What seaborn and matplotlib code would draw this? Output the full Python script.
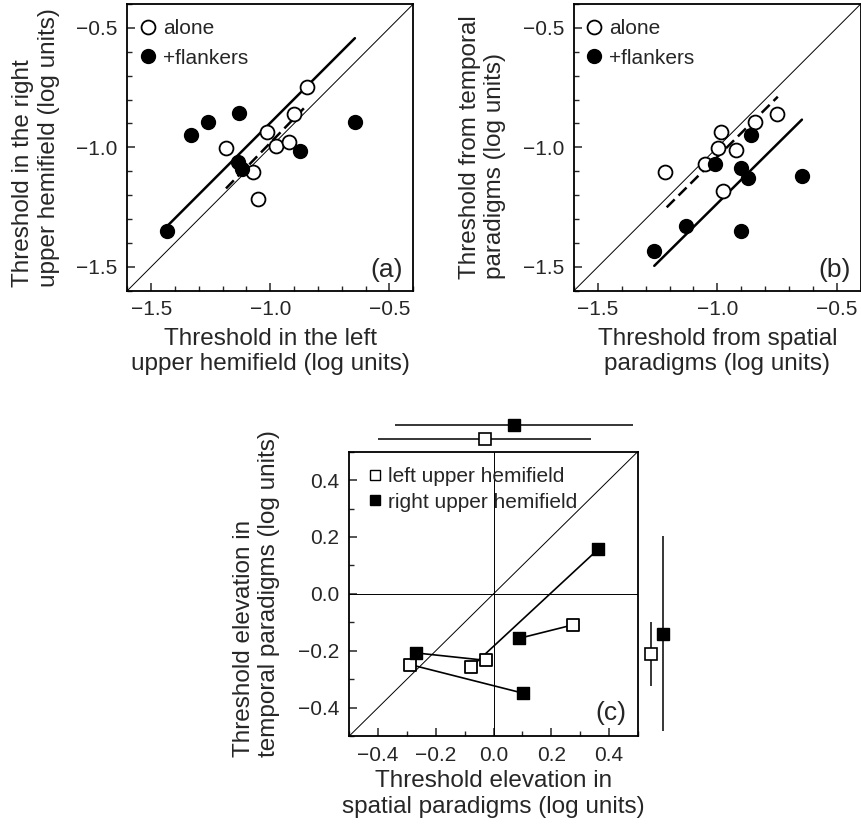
import numpy as np
import pandas as pd
import matplotlib
matplotlib.use("Agg")
import matplotlib.pyplot as plt
from matplotlib.lines import Line2D
from matplotlib.ticker import MultipleLocator
import seaborn as sns

# ---------------- data ----------------
# panel (a)
a_alone_x = [-0.846, -0.899, -1.013, -0.978, -0.920, -1.186, -1.072, -1.051]
a_alone_y = [-0.749, -0.860, -0.937, -0.993, -0.979, -1.004, -1.102, -1.216]
a_flank_x = [-1.130, -1.262, -1.331, -0.645, -0.874, -1.134, -1.120, -1.435]
a_flank_y = [-0.858, -0.895, -0.948, -0.895, -1.014, -1.063, -1.091, -1.352]
a_fit_flank_x = [-1.428, -0.645]
a_fit_flank_y = [-1.325, -0.543]
a_fit_alone_x = [-1.186, -0.846]
a_fit_alone_y = [-1.172, -0.823]

# panel (b)
b_alone_x = [-0.750, -0.844, -0.983, -0.996, -0.924, -1.053, -1.219, -0.976]
b_alone_y = [-0.860, -0.895, -0.934, -1.003, -1.011, -1.070, -1.102, -1.184]
b_flank_x = [-0.858, -1.011, -0.899, -0.872, -0.646, -1.132, -0.899, -1.264]
b_flank_y = [-0.948, -1.068, -1.088, -1.130, -1.119, -1.331, -1.349, -1.433]
b_fit_flank_x = [-1.264, -0.646]
b_fit_flank_y = [-1.496, -0.884]
b_fit_alone_x = [-1.212, -0.747]
b_fit_alone_y = [-1.251, -0.788]

# panel (c): paired observers (left / right upper hemifield)
c_left_x = [-0.026, -0.288, -0.078, 0.276]
c_left_y = [-0.234, -0.249, -0.258, -0.109]
c_right_x = [-0.267, 0.101, 0.363, 0.087]
c_right_y = [-0.208, -0.349, 0.157, -0.157]
# means and spreads shown outside the axes
c_left_mean_x, c_left_sd_x = -0.031, 0.368
c_right_mean_x, c_right_sd_x = 0.072, 0.412
c_left_mean_y, c_left_sd_y = -0.212, 0.113
c_right_mean_y, c_right_sd_y = -0.140, 0.343

ab_ticks = [-1.5, -1.0, -0.5]
c_ticks = [-0.4, -0.2, 0.0, 0.2, 0.4]

# ---------------- style ----------------
sns.set_style("ticks")
plt.rcParams['font.family'] = ['Liberation Sans', 'DejaVu Sans']
plt.rcParams['axes.linewidth'] = 1.3
plt.rcParams['axes.unicode_minus'] = True

W, H = 862, 825
fig = plt.figure(figsize=(W / 100, H / 100), dpi=100)

def px_axes(l, r, t, b):
    return fig.add_axes([l / W, (H - b) / H, (r - l) / W, (b - t) / H])

ax_a = px_axes(127.3, 413.3, 4, 290.7)
ax_b = px_axes(574.0, 860.7, 4, 290.7)
ax_c = px_axes(349.3, 637.7, 451.7, 736.0)

TICK_FS = 15
LABEL_FS = 17.5
LEG_FS = 15
LETTER_FS = 19

def style_ticks(ax, major, minor, lim):
    ax.set_xlim(lim)
    ax.set_ylim(lim)
    ax.set_xticks(major)
    ax.set_yticks(major)
    ax.xaxis.set_minor_locator(MultipleLocator(minor))
    ax.yaxis.set_minor_locator(MultipleLocator(minor))
    ax.tick_params(which='major', direction='in', length=6, width=1.1,
                   labelsize=TICK_FS, pad=7, top=False, right=False)
    ax.tick_params(which='minor', direction='in', length=3.5, width=1.0,
                   top=False, right=False)
    for s in ax.spines.values():
        s.set_visible(True)
        s.set_linewidth(1.3)
        s.set_color('black')

def scatter_panel(ax, ax_x, ax_y, fx, fy, fit_fx, fit_fy, fit_ax, fit_ay, letter, xlabel, ylabel):
    lim = (-1.6, -0.4)
    ax.plot(lim, lim, color='black', lw=0.7, zorder=1)
    sns.lineplot(x=fit_fx, y=fit_fy, ax=ax, color='black', lw=1.8, zorder=2, sort=False)
    sns.lineplot(x=fit_ax, y=fit_ay, ax=ax, color='black', lw=1.8, zorder=2, sort=False,
                 linestyle=(0, (4.5, 2.2)))
    sns.scatterplot(x=ax_x, y=ax_y, ax=ax, marker='o', s=100, facecolor='white',
                    edgecolor='black', linewidth=1.3, zorder=3)
    sns.scatterplot(x=fx, y=fy, ax=ax, marker='o', s=100, color='black',
                    edgecolor='black', linewidth=1.0, zorder=4)
    style_ticks(ax, ab_ticks, 0.1, lim)
    ax.set_xlabel(xlabel, fontsize=LABEL_FS, labelpad=6)
    ax.set_ylabel(ylabel, fontsize=LABEL_FS, labelpad=12, multialignment='left')
    handles = [Line2D([], [], marker='o', ls='', ms=10, mfc='white', mec='black', mew=1.3),
               Line2D([], [], marker='o', ls='', ms=10, mfc='black', mec='black')]
    ax.legend(handles, ['alone', '+flankers'], loc='upper left', frameon=False,
              bbox_to_anchor=(0.035, 0.948), borderaxespad=0, borderpad=0,
              fontsize=LEG_FS, handletextpad=0.22, labelspacing=0.52,
              handlelength=1.0)
    ax.text(0.965, 0.03, letter, transform=ax.transAxes, ha='right', va='bottom',
            fontsize=LETTER_FS)

scatter_panel(ax_a, a_alone_x, a_alone_y, a_flank_x, a_flank_y,
              a_fit_flank_x, a_fit_flank_y, a_fit_alone_x, a_fit_alone_y, '(a)',
              'Threshold in the left\nupper hemifield (log units)',
              'Threshold in the right\nupper hemifield (log units)')
scatter_panel(ax_b, b_alone_x, b_alone_y, b_flank_x, b_flank_y,
              b_fit_flank_x, b_fit_flank_y, b_fit_alone_x, b_fit_alone_y, '(b)',
              'Threshold from spatial\nparadigms (log units)',
              'Threshold from temporal\nparadigms (log units)')

# ---------------- panel (c) ----------------
ax = ax_c
clim = (-0.5, 0.5)
ax.plot(clim, clim, color='black', lw=0.7, zorder=1)
ax.axhline(0, color='black', lw=0.7, zorder=1)
ax.axvline(0, color='black', lw=0.7, zorder=1)
for lx, ly, rx, ry in zip(c_left_x, c_left_y, c_right_x, c_right_y):
    ax.plot([lx, rx], [ly, ry], color='black', lw=1.2, zorder=2)
sns.scatterplot(x=c_left_x, y=c_left_y, ax=ax, marker='s', s=85, facecolor='white',
                edgecolor='black', linewidth=1.3, zorder=3)
sns.scatterplot(x=c_right_x, y=c_right_y, ax=ax, marker='s', s=85, color='black',
                edgecolor='black', linewidth=1.0, zorder=4)
style_ticks(ax, c_ticks, 0.1, clim)
ax.set_xticklabels([f"{v:.1f}".replace('-', '\u2212') for v in c_ticks])
ax.set_yticklabels([f"{v:.1f}".replace('-', '\u2212') for v in c_ticks])
ax.set_xlabel('Threshold elevation in\nspatial paradigms (log units)', fontsize=LABEL_FS,
              labelpad=4)
ax.set_ylabel('Threshold elevation in\ntemporal paradigms (log units)', fontsize=LABEL_FS,
              labelpad=13, multialignment='left')
handles = [Line2D([], [], marker='s', ls='', ms=7, mfc='white', mec='black', mew=1.0),
           Line2D([], [], marker='s', ls='', ms=7, mfc='black', mec='black')]
ax.legend(handles, ['left upper hemifield', 'right upper hemifield'], loc='upper left',
          frameon=False, fontsize=LEG_FS, handletextpad=0.12, borderaxespad=0.35,
          labelspacing=0.3, handlelength=1.0, borderpad=0.4)
ax.text(0.96, 0.04, '(c)', transform=ax.transAxes, ha='right', va='bottom',
        fontsize=LETTER_FS)

# summary error bars outside the axes
y_top_left, y_top_right = 0.546, 0.593
x_side_left, x_side_right = 0.547, 0.589
ax.errorbar([c_left_mean_x], [y_top_left], xerr=[c_left_sd_x], fmt='s', ms=8.5,
            mfc='white', mec='black', mew=1.2, ecolor='black', elinewidth=1.1,
            capsize=0, clip_on=False, zorder=5)
ax.errorbar([c_right_mean_x], [y_top_right], xerr=[c_right_sd_x], fmt='s', ms=8.5,
            mfc='black', mec='black', ecolor='black', elinewidth=1.1,
            capsize=0, clip_on=False, zorder=5)
ax.errorbar([x_side_left], [c_left_mean_y], yerr=[c_left_sd_y], fmt='s', ms=8.5,
            mfc='white', mec='black', mew=1.2, ecolor='black', elinewidth=1.1,
            capsize=0, clip_on=False, zorder=5)
ax.errorbar([x_side_right], [c_right_mean_y], yerr=[c_right_sd_y], fmt='s', ms=8.5,
            mfc='black', mec='black', ecolor='black', elinewidth=1.1,
            capsize=0, clip_on=False, zorder=5)

fig.savefig('out.png', dpi=100)
